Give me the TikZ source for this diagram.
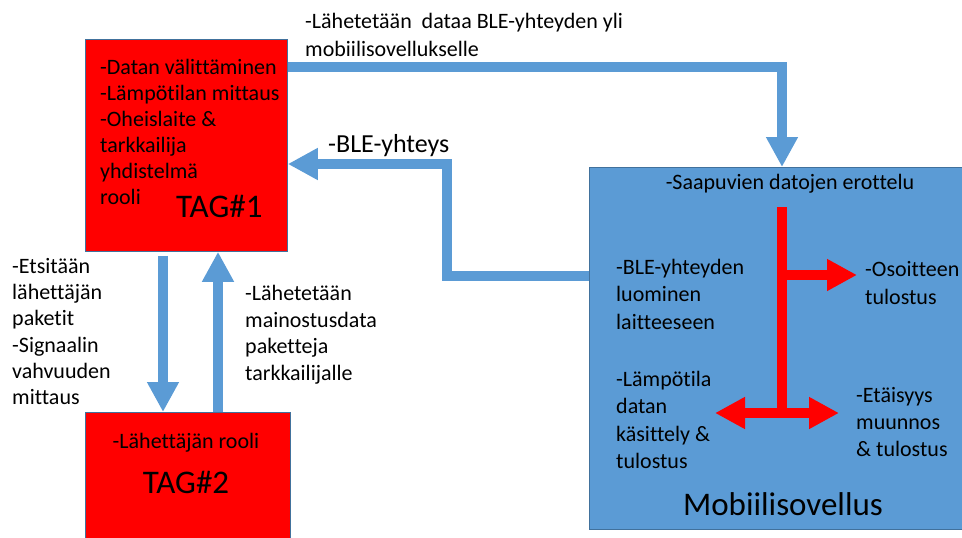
\documentclass[tikz,border=0pt]{standalone}
\usepackage{fontspec}
\setmainfont{Carlito}[Ligatures=CommonOff]
\usetikzlibrary{arrows.meta}
\definecolor{boxblue}{HTML}{5B9BD5}
\definecolor{edgeblue}{HTML}{41719C}
\definecolor{tagred}{HTML}{FF0000}

\begin{document}
\begin{tikzpicture}[x=1pt,y=-1pt,
  tagbox/.style={draw=edgeblue, line width=0.8pt, fill=tagred, inner sep=0, anchor=north west},
  appbox/.style={draw=edgeblue, line width=0.8pt, fill=boxblue, inner sep=0, anchor=north west},
  flow/.style={draw=boxblue, line width=10pt, line join=miter, -{Triangle[width=30pt,length=30pt]}},
  branch/.style={draw=tagred, line width=10pt, line join=miter, -{Triangle[width=30pt,length=30pt]}},
  both/.style={draw=tagred, line width=10pt, {Triangle[width=30pt,length=30pt]}-{Triangle[width=30pt,length=30pt]}},
  body/.style={font=\fontsize{22}{#1}\selectfont, align=left, anchor=north west, inner sep=0},
  body/.default=26,
  line/.style={font=\fontsize{22}{26}\selectfont, inner sep=0, anchor=base},
  title/.style={font=\fontsize{33}{38}\selectfont, inner sep=0, anchor=base},
]
\useasboundingbox (0,0) rectangle (962,538);
\clip (0,0) rectangle (962,538);

% boxes
\node[tagbox, minimum width=202pt, minimum height=212pt] (tag1) at (85,39) {};
\node[tagbox, minimum width=205pt, minimum height=140pt] (tag2) at (85,412) {};
\node[appbox, minimum width=390pt, minimum height=362pt] (app) at (589,167) {};

% anchor points for the bent connectors
\coordinate (bleturn) at (447,276);
\coordinate (tagin) at (447,164);

% blue connectors
\draw[flow] (tag1.east |- 0,67) -| (782,0 |- app.north);
\draw[flow] (app.west |- bleturn) -- (bleturn) -- (tagin) -- (tag1.east |- tagin);
\draw[flow] (163,0 |- tag1.south) ++(0,4) -- (163,0 |- tag2.north);
\draw[flow] (218,0 |- tag2.north) -- (218,0 |- tag1.south);

% red branches inside the app box
\coordinate (trunktop) at (782,207);
\coordinate (trunkbot) at (782,418);
\coordinate (fork) at (782,275);
\coordinate (outaddr) at (857,275);
\coordinate (outtemp) at (715,413);
\coordinate (outdist) at (839,413);
\draw[draw=tagred, line width=10pt] (trunktop) -- (trunkbot);
\draw[branch] (fork) -- (outaddr);
\draw[both] (outtemp) -- (outdist);

% texts
\node[body=28] (sendlbl) at (305,13) {-Lähetetään\ \ dataa BLE-yhteyden yli\\mobiilisovellukselle};
\node[body=26] (tag1txt) at (100,59) {-Datan välittäminen\\-Lämpötilan mittaus\\-Oheislaite \&\\tarkkailija\\yhdistelmä\\rooli};
\node[title, anchor=base west] (tag1name) at (176,217) {TAG\#1};
\node[font=\fontsize{26}{30}\selectfont, inner sep=0, anchor=base west] (blelbl) at (328,152) {-BLE-yhteys};
\node[body=26.3] (scanlbl) at (12,258) {-Etsitään\\lähettäjän\\paketit\\-Signaalin\\vahvuuden\\mittaus};
\node[body=26.7] (advlbl) at (245,285) {-Lähetetään\\mainostusdata\\paketteja\\tarkkailijalle};
\node[line] (tag2txt) at (186,448) {-Lähettäjän rooli};
\node[title] (tag2name) at (186,493) {TAG\#2};

\node[line] (sorttxt) at (790,189) {-Saapuvien datojen erottelu};
\node[body=27.5] (conntxt) at (616,259) {-BLE-yhteyden\\luominen\\laitteeseen};
\node[body=28] (addrtxt) at (865,261) {-Osoitteen\\tulostus};
\node[body=27.3] (temptxt) at (616,371) {-Lämpötila\\datan\\käsittely \&\\tulostus};
\node[body=27] (disttxt) at (856,387) {-Etäisyys\\muunnos\\\& tulostus};
\node[title] (appname) at (783,515) {Mobiilisovellus};
\end{tikzpicture}
\end{document}
